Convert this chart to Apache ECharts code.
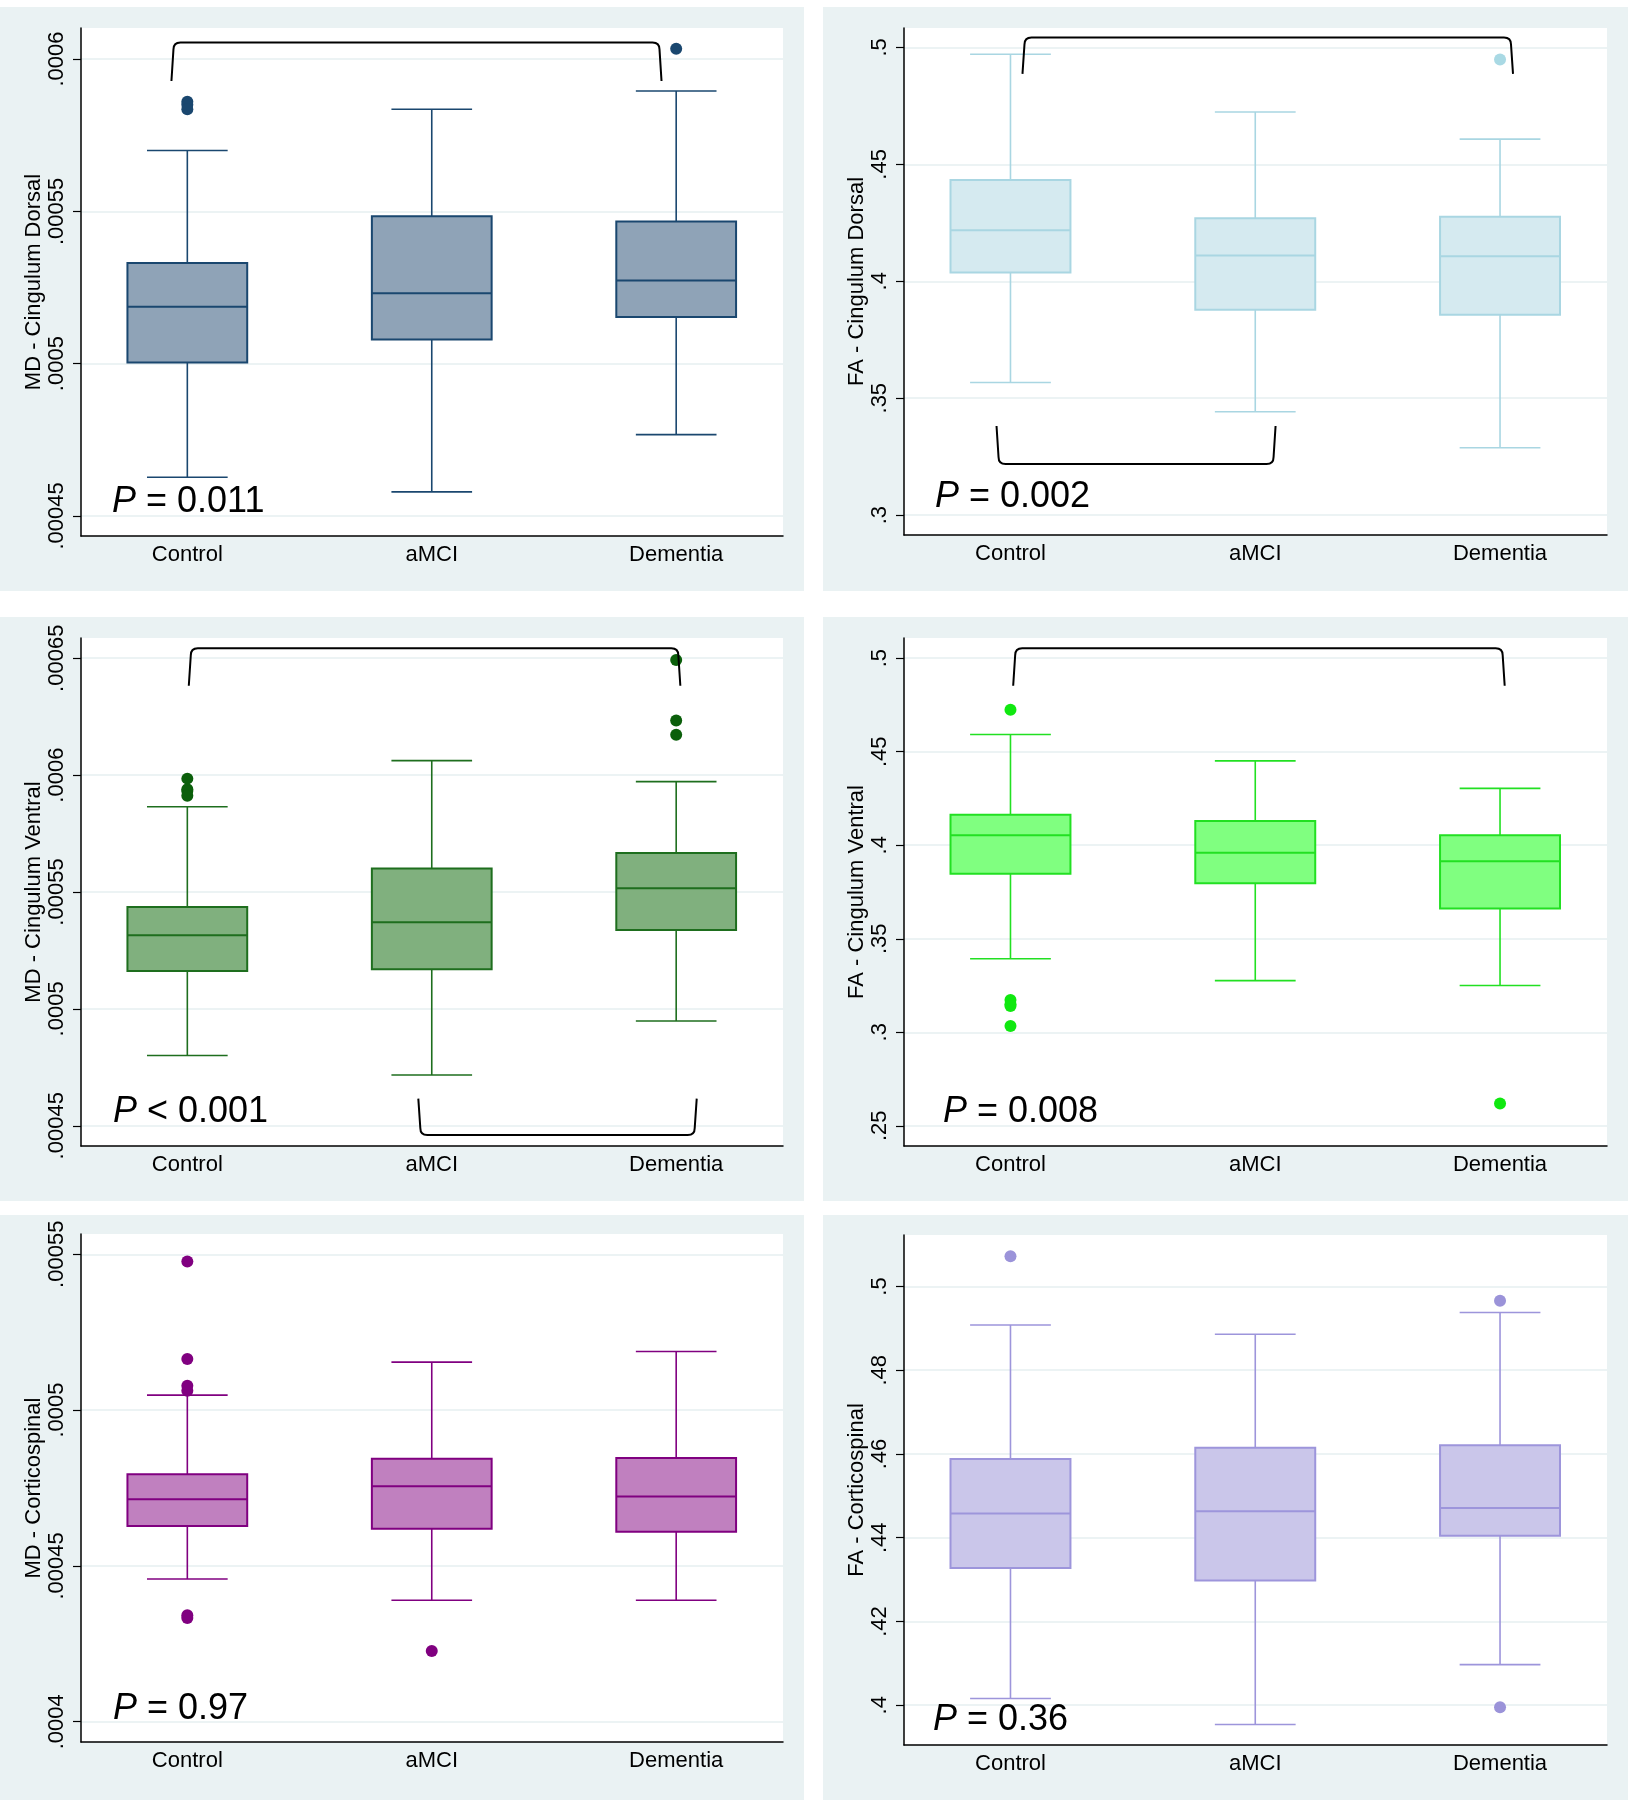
<!DOCTYPE html>
<html>
<head>
<meta charset="utf-8">
<script src="https://cdn.jsdelivr.net/npm/echarts@6/dist/echarts.min.js"></script>
<style>
html,body{margin:0;padding:0;background:#fff;}
#chart{width:1635px;height:1800px;}
</style>
</head>
<body>
<div id="chart"></div>
<script>
// ---------------- DATA ----------------
const categories = ['Control', 'aMCI', 'Dementia'];

// box stats per group: [lower whisker, Q1, median, Q3, upper whisker]
const mdDorsalBox = [
  [0.0004627, 0.0005004, 0.0005187, 0.0005330, 0.0005700],
  [0.0004579, 0.0005079, 0.0005231, 0.0005484, 0.0005835],
  [0.0004767, 0.0005153, 0.0005273, 0.0005467, 0.0005895]
];
const mdDorsalOut = [[0, 0.000586], [0, 0.000585], [0, 0.0005835], [2, 0.0006034]];
const mdDorsalTicks = [0.00045, 0.0005, 0.00055, 0.0006];
const mdDorsalRange = [0.0004434, 0.0006102];
const mdDorsalBrackets = [[-0.065, 1.94, 0.0006054, 0.0005928]];

const faDorsalBox = [
  [0.3567, 0.4037, 0.4218, 0.4433, 0.4971],
  [0.3442, 0.3878, 0.4110, 0.4269, 0.4724],
  [0.3288, 0.3857, 0.4107, 0.4276, 0.4608]
];
const faDorsalOut = [[2, 0.4948]];
const faDorsalTicks = [0.3, 0.35, 0.4, 0.45, 0.5];
const faDorsalRange = [0.2915, 0.5083];
const faDorsalBrackets = [[0.049, 2.053, 0.50425, 0.4887], [-0.057, 1.083, 0.3219, 0.3381]];

const mdVentralBox = [
  [0.00048007, 0.00051618, 0.00053154, 0.00054363, 0.00058644],
  [0.0004717, 0.0005170, 0.0005371, 0.0005601, 0.0006062],
  [0.0004948, 0.0005337, 0.0005516, 0.0005667, 0.0005972]
];
const mdVentralOut = [[0, 0.0005985], [0, 0.000594], [0, 0.0005932], [0, 0.0005912],
  [2, 0.0006492], [2, 0.0006234], [2, 0.0006173]];
const mdVentralTicks = [0.00045, 0.0005, 0.00055, 0.0006, 0.00065];
const mdVentralRange = [0.00044134, 0.00065866];
const mdVentralBrackets = [[0.006, 2.017, 0.00065425, 0.00063824], [0.945, 2.084, 0.00044608, 0.0004616]];

const faVentralBox = [
  [0.3393, 0.3848, 0.4054, 0.4163, 0.4592],
  [0.3276, 0.3797, 0.3960, 0.4130, 0.4451],
  [0.3250, 0.3662, 0.3915, 0.4054, 0.4304]
];
const faVentralOut = [[0, 0.4724], [0, 0.3172], [0, 0.3150], [0, 0.3141], [0, 0.3033], [2, 0.2619]];
const faVentralTicks = [0.25, 0.3, 0.35, 0.4, 0.45, 0.5];
const faVentralRange = [0.2392, 0.5108];
const faVentralBrackets = [[0.011, 2.019, 0.5053, 0.4853]];

const mdCstBox = [
  [0.0004458, 0.0004628, 0.0004714, 0.0004794, 0.0005048],
  [0.0004390, 0.0004619, 0.0004756, 0.0004844, 0.0005154],
  [0.0004390, 0.0004610, 0.0004723, 0.0004846, 0.0005188]
];
const mdCstOut = [[0, 0.0005477], [0, 0.0005164], [0, 0.0005078], [0, 0.0005062],
  [0, 0.0004342], [0, 0.0004333], [1, 0.0004227]];
const mdCstTicks = [0.0004, 0.00045, 0.0005, 0.00055];
const mdCstRange = [0.0003935, 0.0005565];
const mdCstBrackets = [];

const faCstBox = [
  [0.4016, 0.4328, 0.4458, 0.4588, 0.4908],
  [0.3954, 0.4298, 0.4463, 0.4615, 0.4886],
  [0.4097, 0.4405, 0.4471, 0.4621, 0.4938]
];
const faCstOut = [[0, 0.5072], [2, 0.4966], [2, 0.3995]];
const faCstTicks = [0.4, 0.42, 0.44, 0.46, 0.48, 0.5];
const faCstRange = [0.3905, 0.5123];
const faCstBrackets = [];

const axisNames = ['MD - Cingulum Dorsal', 'FA - Cingulum Dorsal', 'MD - Cingulum Ventral',
  'FA - Cingulum Ventral', 'MD - Corticospinal', 'FA - Corticospinal'];
const pOps = ['=', '=', '<', '=', '=', '='];
const pValues = ['0.011', '0.002', '0.001', '0.008', '0.97', '0.36'];

// ---------------- STYLE / LAYOUT ----------------
const FONT = '"Liberation Sans", Arial, Helvetica, sans-serif';
const panels = [
  {box: mdDorsalBox, out: mdDorsalOut, ticks: mdDorsalTicks, range: mdDorsalRange, br: mdDorsalBrackets,
   line: '#1A476F', fill: '#8FA3B7', dot: '#1A476F'},
  {box: faDorsalBox, out: faDorsalOut, ticks: faDorsalTicks, range: faDorsalRange, br: faDorsalBrackets,
   line: '#A9D6E2', fill: '#D5EAF0', dot: '#A9D9E4'},
  {box: mdVentralBox, out: mdVentralOut, ticks: mdVentralTicks, range: mdVentralRange, br: mdVentralBrackets,
   line: '#1E6E1E', fill: '#80B07E', dot: '#0B5F0B'},
  {box: faVentralBox, out: faVentralOut, ticks: faVentralTicks, range: faVentralRange, br: faVentralBrackets,
   line: '#22E022', fill: '#80FF80', dot: '#10E810'},
  {box: mdCstBox, out: mdCstOut, ticks: mdCstTicks, range: mdCstRange, br: mdCstBrackets,
   line: '#800080', fill: '#C080BF', dot: '#800080'},
  {box: faCstBox, out: faCstOut, ticks: faCstTicks, range: faCstRange, br: faCstBrackets,
   line: '#9D95DB', fill: '#CAC6EA', dot: '#9B93D9'}
];
const gridPos = [
  {left: 81, top: 28, width: 702, height: 508},
  {left: 904, top: 28, width: 703, height: 507},
  {left: 81, top: 638, width: 702, height: 508},
  {left: 904, top: 638, width: 703, height: 508},
  {left: 81, top: 1234, width: 702, height: 508},
  {left: 904, top: 1235, width: 703, height: 510}
];
const pTextPos = [[112, 502], [935, 497], [113, 1112], [943, 1112], [113, 1709], [933, 1720]];
const bgRects = [[0, 7, 804, 584], [823, 7, 805, 584], [0, 617, 804, 584], [823, 617, 805, 584],
  [0, 1215, 804, 585], [823, 1215, 805, 585]];

function fmtTick(v) {
  return String(+(+v).toPrecision(6)).replace(/^0\./, '.');
}

function boxRenderer(p) {
  return function (params, api) {
    const x = api.value(0);
    const unit = api.size([1, 0])[0];
    const cx = api.coord([x, api.value(3)])[0];
    const y = i => api.coord([x, api.value(i)])[1];
    const yLo = y(1), yQ1 = y(2), yMd = y(3), yQ3 = y(4), yHi = y(5);
    const bh = unit * 0.245, ch = unit * 0.165;
    const ls = {stroke: p.line, lineWidth: 1.6};
    return {
      type: 'group',
      children: [
        {type: 'line', shape: {x1: cx, y1: yHi, x2: cx, y2: yQ3}, style: ls},
        {type: 'line', shape: {x1: cx, y1: yQ1, x2: cx, y2: yLo}, style: ls},
        {type: 'line', shape: {x1: cx - ch, y1: yHi, x2: cx + ch, y2: yHi}, style: ls},
        {type: 'line', shape: {x1: cx - ch, y1: yLo, x2: cx + ch, y2: yLo}, style: ls},
        {type: 'rect', shape: {x: cx - bh, y: yQ3, width: 2 * bh, height: yQ1 - yQ3},
          style: {fill: p.fill, stroke: p.line, lineWidth: 2}},
        {type: 'line', shape: {x1: cx - bh, y1: yMd, x2: cx + bh, y2: yMd},
          style: {stroke: p.line, lineWidth: 2}}
      ]
    };
  };
}

function bracketRenderer(params, api) {
  const x1 = api.value(0), x2 = api.value(1), yb = api.value(2), ye = api.value(3);
  const a = api.coord([x1, yb]), b = api.coord([x2, yb]);
  const e = api.coord([x1, ye]);
  const Y = a[1], E = e[1];
  const s = E > Y ? 1 : -1; // direction from bar toward ends
  const L = a[0], R = b[0];
  const r = 7;
  const d = 'M' + L + ' ' + E +
    ' L' + (L + 2) + ' ' + (Y + s * r) +
    ' Q' + (L + 2) + ' ' + Y + ' ' + (L + 2 + r) + ' ' + Y +
    ' L' + (R - 2 - r) + ' ' + Y +
    ' Q' + (R - 2) + ' ' + Y + ' ' + (R - 2) + ' ' + (Y + s * r) +
    ' L' + R + ' ' + E;
  return {type: 'path', shape: {pathData: d}, style: {stroke: '#000', lineWidth: 2, fill: null}};
}

const grid = [], xAxis = [], yAxis = [], series = [];
panels.forEach((p, i) => {
  grid.push(Object.assign({show: true, backgroundColor: '#ffffff', borderWidth: 0, containLabel: false}, gridPos[i]));
  xAxis.push({
    type: 'value', gridIndex: i, min: -0.435, max: 2.437,
    axisLine: {show: true, onZero: false, lineStyle: {color: '#000', width: 1.5}},
    axisTick: {show: false},
    splitLine: {show: false},
    axisLabel: {customValues: [0, 1, 2], formatter: v => categories[Math.round(v)],
      fontSize: 22, color: '#000', fontFamily: FONT, margin: 8}
  });
  yAxis.push({
    type: 'value', gridIndex: i, min: p.range[0], max: p.range[1],
    name: axisNames[i], nameLocation: 'middle', nameGap: 35, nameRotate: 90,
    nameTextStyle: {fontSize: 22, color: '#000', fontFamily: FONT},
    axisLine: {show: true, onZero: false, lineStyle: {color: '#000', width: 1.5}},
    axisTick: {show: true, length: 8, customValues: p.ticks, lineStyle: {color: '#000', width: 1.2}},
    splitLine: {show: true, lineStyle: {color: '#E6EFF1', width: 1.5}},
    axisLabel: {customValues: p.ticks, formatter: fmtTick, rotate: 90, fontSize: 22,
      color: '#000', fontFamily: FONT, margin: 13}
  });
  series.push({
    type: 'custom', xAxisIndex: i, yAxisIndex: i,
    renderItem: boxRenderer(p),
    encode: {x: 0, y: [1, 2, 3, 4, 5]},
    data: p.box.map((b, k) => [k].concat(b)),
    z: 2, silent: true
  });
  series.push({
    type: 'scatter', xAxisIndex: i, yAxisIndex: i,
    data: p.out, symbol: 'circle', symbolSize: 12,
    itemStyle: {color: p.dot, opacity: 1}, z: 3, silent: true
  });
  if (p.br.length) {
    series.push({
      type: 'custom', xAxisIndex: i, yAxisIndex: i,
      renderItem: bracketRenderer,
      encode: {x: [0, 1], y: [2, 3]},
      data: p.br, z: 4, silent: true, clip: false
    });
  }
});

const graphic = [];
bgRects.forEach(r => graphic.push({
  type: 'rect', z: -10, silent: true,
  shape: {x: r[0], y: r[1], width: r[2], height: r[3]},
  style: {fill: '#EAF2F3'}
}));
pTextPos.forEach((pos, i) => graphic.push({
  type: 'text', z: 100, silent: true, x: pos[0], y: pos[1],
  style: {
    text: '{i|P} ' + pOps[i] + ' ' + pValues[i],
    fontSize: 36, fontFamily: FONT, fill: '#000',
    verticalAlign: 'middle', align: 'left',
    rich: {i: {fontStyle: 'italic', fontSize: 36, fontFamily: FONT, fill: '#000'}}
  }
}));

const chart = echarts.init(document.getElementById('chart'), null, {renderer: 'canvas'});
chart.setOption({
  backgroundColor: '#ffffff',
  animation: false,
  grid, xAxis, yAxis, series, graphic
});
</script>
</body>
</html>
